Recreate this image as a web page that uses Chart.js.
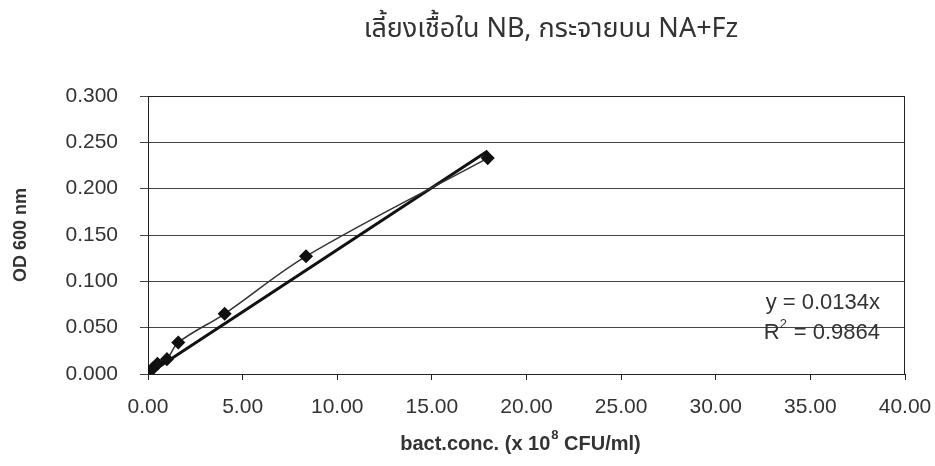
<!DOCTYPE html>
<html lang="th">
<head>
<meta charset="UTF-8">
<title>OD 600 vs bact.conc.</title>
<script src="https://cdn.jsdelivr.net/npm/chart.js@4"></script>
<style>
  html, body { margin: 0; padding: 0; background: #fff; }
  #wrap { width: 935px; height: 466px; }
</style>
</head>
<body>
<div id="wrap"><canvas id="odChart" width="935" height="466"></canvas></div>
<script>
// measured points (x = bact.conc. x10^8 CFU/ml, y = OD 600 nm)
const concX = [0, 0.25, 0.5, 1.0, 1.6, 4.05, 8.35, 17.95];
const odY   = [0, 0.006, 0.011, 0.016, 0.034, 0.065, 0.127, 0.233];
// linear trend through origin
const slope = 0.0134;
const rSquared = 0.9864;
const trendX = [0, 17.95];

const titleText = "เลี้ยงเชื้อใน NB, กระจายบน NA+Fz";
const yTitle = "OD 600 nm";

const measured = concX.map((x, i) => ({ x: x, y: odY[i] }));
const trend = trendX.map(x => ({ x: x, y: slope * x }));

const FONT = "'Liberation Sans', Arial, sans-serif";

// title, x-axis title with superscript, equation text, plot border
const extras = {
    id: "extras",
    afterDraw(chart) {
        const ctx = chart.ctx;
        const a = chart.chartArea;
        ctx.save();
        ctx.strokeStyle = "#222";
        ctx.lineWidth = 1;
        ctx.beginPath();
        ctx.moveTo(a.left, a.top + 0.5);
        ctx.lineTo(a.right - 0.5, a.top + 0.5);
        ctx.lineTo(a.right - 0.5, a.bottom);
        ctx.stroke();

        ctx.fillStyle = "#333";
        ctx.textBaseline = "alphabetic";
        ctx.textAlign = "center";
        ctx.font = "27px 'Noto Sans Thai', 'Noto Sans', " + FONT;
        ctx.fillText(titleText, 551, 37);

        // x title
        ctx.textBaseline = "middle";
        ctx.font = "bold 20px " + FONT;
        const p1 = "bact.conc. (x 10", p2 = " CFU/ml)";
        const w1 = ctx.measureText(p1).width;
        const w2 = ctx.measureText(p2).width;
        ctx.font = "bold 13px " + FONT;
        const ws = ctx.measureText("8").width;
        let x0 = 520 - (w1 + ws + w2) / 2;
        const yb = 444;
        ctx.textAlign = "left";
        ctx.font = "bold 20px " + FONT;
        ctx.fillText(p1, x0, yb);
        ctx.font = "bold 13px " + FONT;
        ctx.fillText("8", x0 + w1 + 1, yb - 9);
        ctx.font = "bold 20px " + FONT;
        ctx.fillText(p2, x0 + w1 + ws + 1, yb);

        // equation
        ctx.font = "22px " + FONT;
        ctx.textAlign = "right";
        ctx.fillText("y = " + slope.toFixed(4) + "x", 880, 303);
        const rv = " = " + rSquared.toFixed(4);
        const wr = ctx.measureText(rv).width;
        ctx.fillText(rv, 880, 333);
        ctx.textAlign = "left";
        const wR = ctx.measureText("R").width;
        ctx.fillText("R", 880 - wr - wR - 8, 333);
        ctx.font = "13px " + FONT;
        ctx.fillText("2", 880 - wr - 8, 324);
        ctx.restore();
    }
};

new Chart(document.getElementById("odChart"), {
    type: "scatter",
    data: {
        datasets: [
            {
                label: "OD",
                data: measured,
                showLine: true,
                tension: 0.35,
                borderColor: "#333",
                borderWidth: 1.5,
                pointStyle: "rectRot",
                pointRadius: 6,
                pointBackgroundColor: "#111",
                pointBorderColor: "#111"
            },
            {
                label: "Linear",
                data: trend,
                showLine: true,
                borderColor: "#111",
                borderWidth: 3,
                pointRadius: 0
            }
        ]
    },
    options: {
        responsive: false,
        animation: false,
        layout: { padding: { top: 96, right: 30, bottom: 0, left: 0 } },
        plugins: { legend: { display: false }, tooltip: { enabled: false } },
        scales: {
            x: {
                type: "linear",
                min: 0, max: 40,
                afterFit: s => { s.height = 92; s.paddingRight = 0; s.paddingLeft = 0; },
                border: { color: "#222", width: 1 },
                grid: { drawOnChartArea: false, drawTicks: true, tickLength: 6, color: "#222" },
                ticks: {
                    stepSize: 5,
                    padding: 15,
                    color: "#333",
                    font: { family: FONT, size: 21 },
                    maxRotation: 0,
                    callback: v => v.toFixed(2)
                }
            },
            y: {
                min: 0, max: 0.3,
                afterFit: s => { s.width = 148; },
                border: { color: "#222", width: 1 },
                grid: { color: "#444", lineWidth: 1, tickLength: 8 },
                ticks: {
                    stepSize: 0.05,
                    padding: 22,
                    color: "#333",
                    font: { family: FONT, size: 21 },
                    callback: v => v.toFixed(3)
                },
                title: {
                    display: true,
                    text: yTitle,
                    color: "#333",
                    padding: { top: 10, bottom: 0 },
                    font: { family: FONT, size: 18, weight: "bold" }
                }
            }
        }
    },
    plugins: [extras]
});
</script>
</body>
</html>
